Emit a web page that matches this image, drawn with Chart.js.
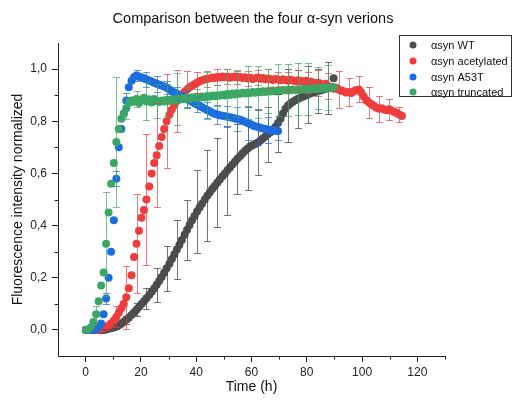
<!DOCTYPE html>
<html>
<head>
<meta charset="utf-8">
<script src="https://cdn.jsdelivr.net/npm/chart.js@4.4.1/dist/chart.umd.min.js"></script>
<style>
html, body { margin: 0; padding: 0; background: #fff; }
#wrap { width: 513px; height: 403px; }
</style>
</head>
<body>
<div id="wrap"><canvas id="fluoChart" width="513" height="403"></canvas></div>
<script>
// time points (h), shared by all four series
const times = [0.1,1.0,1.9,2.8,3.8,4.7,5.6,6.5,7.4,8.3,
  9.2,10.2,11.1,12.0,12.9,13.8,14.7,15.6,16.6,17.5,
  18.4,19.3,20.2,21.1,22.0,23.0,23.9,24.8,25.7,26.6,
  27.5,28.4,29.3,30.3,31.2,32.1,33.0,33.9,34.8,35.8,
  36.7,37.6,38.5,39.4,40.3,41.2,42.1,43.1,44.0,44.9,
  45.8,46.7,47.6,48.5,49.5,50.4,51.3,52.2,53.1,54.0,
  54.9,55.9,56.8,57.7,58.6,59.5,60.4,61.3,62.3,63.2,
  64.1,65.0,65.9,66.8,67.7,68.6,69.6,70.5,71.4,72.3,
  73.2,74.1,75.0,76.0,76.9,77.8,78.7,79.6,80.5,81.4,
  82.4,83.3,84.2,85.1,86.0,86.9,87.8,88.8,89.7,90.6,
  91.5,92.4,93.3,94.2,95.2,96.1,97.0,97.9,98.8,99.7,
  100.6,101.6,102.5,103.4,104.3,105.2,106.1,107.0,108.0,108.9,
  109.8,110.7,111.6,112.5,113.4,114.4];

const seriesLabels = ['\u03b1syn WT', '\u03b1syn acetylated', '\u03b1syn A53T', '\u03b1syn truncated'];

const wtValues = [0,0,0,0,0,0,0,0,0.002,0.004,
  0.006,0.009,0.013,0.018,0.024,0.031,0.039,0.047,0.057,0.067,
  0.077,0.088,0.099,0.11,0.121,0.134,0.146,0.159,0.173,0.188,
  0.203,0.219,0.236,0.254,0.272,0.29,0.308,0.326,0.345,0.365,
  0.384,0.402,0.42,0.437,0.454,0.469,0.484,0.5,0.514,0.527,
  0.54,0.552,0.564,0.576,0.589,0.6,0.612,0.623,0.634,0.645,
  0.656,0.667,0.677,0.687,0.696,0.703,0.708,0.713,0.719,0.726,
  0.734,0.742,0.75,0.758,0.767,0.778,0.793,0.81,0.83,0.848,
  0.86,0.868,0.875,0.881,0.886,0.891,0.895,0.899,0.903,0.907,
  0.91,0.913,0.916,0.919,0.922,0.925,0.928,0.931,0.965];

const acetValues = [0,0,0,0,0,0.002,0.004,0.007,0.011,0.017,
  0.025,0.036,0.05,0.066,0.083,0.1,0.125,0.16,0.21,0.28,
  0.33,0.38,0.43,0.46,0.5,0.55,0.6,0.64,0.67,0.705,
  0.74,0.77,0.8,0.825,0.845,0.862,0.878,0.892,0.903,0.913,
  0.922,0.93,0.936,0.942,0.948,0.953,0.957,0.96,0.963,
  0.965,0.968,0.966,0.97,0.968,0.972,0.969,0.971,0.967,0.97,
  0.972,0.968,0.97,0.966,0.969,0.964,0.967,0.962,0.965,0.968,
  0.963,0.966,0.961,0.964,0.962,0.958,0.962,0.96,0.957,0.961,
  0.958,0.955,0.959,0.956,0.953,0.957,0.954,0.951,0.955,0.95,
  0.952,0.948,0.945,0.948,0.943,0.94,0.944,
  0.935,0.93,0.925,0.928,0.922,0.918,0.915,0.91,0.912,0.908,
  0.915,0.92,0.922,0.91,0.895,0.88,0.872,0.865,0.858,0.852,
  0.848,0.85,0.845,0.842,0.846,0.84,0.836,0.832,0.826,0.82];

const a53tValues = [0,0,0,0,0.003,0.008,0.025,0.06,0.12,0.2,
  0.3,0.42,0.58,0.7,0.77,0.83,0.88,0.93,0.955,0.97,
  0.975,0.972,0.968,0.965,0.96,0.956,0.952,0.948,0.944,0.94,
  0.937,0.933,0.928,0.922,0.916,0.91,0.905,0.9,0.896,0.891,
  0.886,0.88,0.875,0.869,0.864,0.859,0.854,0.848,0.843,0.838,
  0.833,0.829,0.826,0.823,0.821,0.819,0.817,0.815,0.813,0.811,
  0.809,0.806,0.802,0.798,0.793,0.789,0.785,0.781,0.778,0.775,
  0.772,0.77,0.768,0.766,0.765,0.764,0.763];

const truncValues = [0,0.003,0.01,0.03,0.06,0.11,0.17,0.22,0.33,0.45,
  0.56,0.64,0.72,0.77,0.81,0.83,0.85,0.87,0.88,0.875,
  0.885,0.87,0.882,0.89,0.876,0.884,0.872,0.885,0.878,0.874,
  0.88,0.876,0.882,0.878,0.884,0.88,0.886,0.882,0.888,0.884,
  0.89,0.886,0.892,0.889,0.894,0.89,0.895,0.892,0.897,0.894,
  0.899,0.896,0.9,0.898,0.902,0.899,0.904,0.901,0.906,0.903,
  0.907,0.905,0.909,0.906,0.91,0.908,0.912,0.909,0.913,0.911,
  0.915,0.912,0.916,0.914,0.918,0.915,0.919,0.917,0.92,0.918,
  0.921,0.919,0.922,0.92,0.923,0.921,0.924,0.922,0.925,0.923,
  0.926,0.924,0.927,0.925,0.928,0.926,0.929,0.927,0.93];

// error bars (half widths), one for every 4th point
const errEvery = 4;
const wtErr = [0,0,0.003,0.008,0.015,0.025,0.04,0.065,0.087,0.113,0.115,0.16,0.175,
  0.17,0.17,0.135,0.16,0.125,0.105,0.11,0.14,0.11,0.11,0.085,0.1];
const acetErr = [0,0.002,0.01,0.04,0.12,0.19,0.25,0.2,0.18,0.12,0.07,0.04,0.03,0.03,0.03,0.025,
  0.03,0.03,0.035,0.03,0.035,0.04,0.04,0.05,0.05,0.07,0.055,0.05,0.06,0.05,0.04,0.03];
const a53tErr = [0,0.002,0.02,0.03,0.03,0.02,0.03,0.03,0.025,0.025,0.03,0.03,0.03,0.035,
  0.04,0.045,0.065,0.068,0.05,0.035];
const truncErr = [0,0.03,0.2,0.25,0.04,0.03,0.073,0.065,0.06,0.1,0.04,0.03,0.09,0.04,
  0.095,0.09,0.1,0.1,0.085,0.1,0.1,0.1,0.1,0.08,0.087];

const seriesValues = [wtValues, acetValues, a53tValues, truncValues];
const seriesErrors = [wtErr, acetErr, a53tErr, truncErr];
const seriesColors = ['#4d4d4d', '#f03c3c', '#1c6ee0', '#3aa864'];
const errColors = ['rgba(70,70,70,0.75)', 'rgba(240,60,60,0.7)', 'rgba(28,110,224,0.7)', 'rgba(58,168,100,0.7)'];

Chart.defaults.font.family = '"Liberation Sans", Arial, sans-serif';
Chart.defaults.color = '#222';

function isMajorX(v){ const r = Math.round(v); return r % 20 === 0 && r >= 0 && r <= 120; }
function isMajorY(v){ const r = Math.round(v * 10); return r % 2 === 0 && r >= 0 && r <= 10; }

const errorBars = {
  id: 'errorBars',
  afterDatasetsDraw(chart) {
    const {ctx, scales: {x, y}} = chart;
    ctx.save();
    ctx.lineWidth = 1;
    seriesErrors.forEach((errs, k) => {
      ctx.strokeStyle = errColors[k];
      errs.forEach((e, j) => {
        const i = j * errEvery;
        const v = seriesValues[k][i];
        if (v === undefined || !e) return;
        const px = Math.round(x.getPixelForValue(times[i])) + 0.5;
        const top = Math.round(y.getPixelForValue(v + e)) + 0.5;
        const bot = Math.round(y.getPixelForValue(v - e)) + 0.5;
        ctx.beginPath();
        ctx.moveTo(px, top); ctx.lineTo(px, bot);
        ctx.moveTo(px - 3.5, top); ctx.lineTo(px + 3.5, top);
        ctx.moveTo(px - 3.5, bot); ctx.lineTo(px + 3.5, bot);
        ctx.stroke();
      });
    });
    ctx.restore();
  }
};

const extras = {
  id: 'extras',
  afterDraw(chart) {
    const {ctx, chartArea, scales: {x, y}} = chart;
    ctx.save();
    // minor ticks
    ctx.strokeStyle = '#222';
    ctx.lineWidth = 1;
    ctx.beginPath();
    x.ticks.forEach(t => {
      if (isMajorX(t.value) || t.value <= x.min) return;
      const px = Math.round(x.getPixelForValue(t.value)) + 0.5;
      ctx.moveTo(px, chartArea.bottom); ctx.lineTo(px, chartArea.bottom + 3.5);
    });
    y.ticks.forEach(t => {
      if (isMajorY(t.value) || t.value <= y.min || t.value >= y.max) return;
      const py = Math.round(y.getPixelForValue(t.value)) + 0.5;
      ctx.moveTo(chartArea.left, py); ctx.lineTo(chartArea.left - 3.5, py);
    });
    ctx.stroke();

    // title
    ctx.fillStyle = '#111';
    ctx.font = '14.5px "Liberation Sans", Arial, sans-serif';
    ctx.textAlign = 'center';
    ctx.textBaseline = 'middle';
    ctx.fillText('Comparison between the four \u03b1-syn verions', 253, 19);

    // legend box
    ctx.fillStyle = '#fff';
    ctx.fillRect(399.5, 35.5, 112, 61);
    ctx.strokeStyle = '#333';
    ctx.strokeRect(399.5, 35.5, 112, 61);
    const rows = [45, 61, 77, 92];
    ctx.font = '11px "Liberation Sans", Arial, sans-serif';
    ctx.textAlign = 'left';
    seriesLabels.forEach((label, k) => {
      ctx.fillStyle = seriesColors[k];
      ctx.beginPath();
      ctx.arc(413, rows[k], 3.5, 0, Math.PI * 2);
      ctx.fill();
      ctx.fillStyle = '#111';
      ctx.fillText(label, 431, rows[k] + 0.5);
    });
    ctx.restore();
  }
};

const datasets = seriesLabels.map((label, k) => ({
  label: label,
  data: seriesValues[k].map((v, i) => ({x: times[i], y: v})),
  backgroundColor: seriesColors[k],
  borderColor: seriesColors[k],
  borderWidth: 0,
  pointRadius: 4,
  pointHoverRadius: 4,
  showLine: false,
  order: 4 - k
}));

new Chart(document.getElementById('fluoChart').getContext('2d'), {
  type: 'scatter',
  data: { datasets: datasets },
  options: {
    responsive: false,
    animation: false,
    layout: { padding: { top: 43, right: 68, bottom: 0, left: 0 } },
    plugins: { legend: { display: false }, tooltip: { enabled: false }, title: { display: false } },
    scales: {
      x: {
        type: 'linear',
        min: -10, max: 130,
        afterFit: s => { s.height = 47; },
        border: { display: true, color: '#222', width: 1 },
        grid: {
          drawOnChartArea: false, drawTicks: true, tickLength: 6,
          tickColor: c => (c.tick && isMajorX(c.tick.value)) ? '#222' : 'rgba(0,0,0,0)'
        },
        ticks: {
          stepSize: 10, autoSkip: false, maxRotation: 0, padding: 3,
          font: { size: 12 }, color: '#222',
          callback: v => isMajorX(v) ? String(Math.round(v)) : ''
        },
        title: { display: true, text: 'Time (h)', font: { size: 14 }, color: '#111', padding: { top: 0, bottom: 7 } }
      },
      y: {
        type: 'linear',
        min: -0.1, max: 1.1,
        afterFit: s => { s.width = 58; },
        border: { display: true, color: '#222', width: 1 },
        grid: {
          drawOnChartArea: false, drawTicks: true, tickLength: 6,
          tickColor: c => (c.tick && isMajorY(c.tick.value)) ? '#222' : 'rgba(0,0,0,0)'
        },
        ticks: {
          stepSize: 0.1, autoSkip: false, padding: 5,
          font: { size: 12 }, color: '#222',
          callback: v => isMajorY(v) ? (Math.round(v * 10) / 10).toFixed(1).replace('.', ',') : ''
        },
        title: { display: true, text: 'Fluorescence intensity normalized', font: { size: 14 }, color: '#111', padding: { top: 10, bottom: 0 } }
      }
    }
  },
  plugins: [errorBars, extras]
});
</script>
</body>
</html>
